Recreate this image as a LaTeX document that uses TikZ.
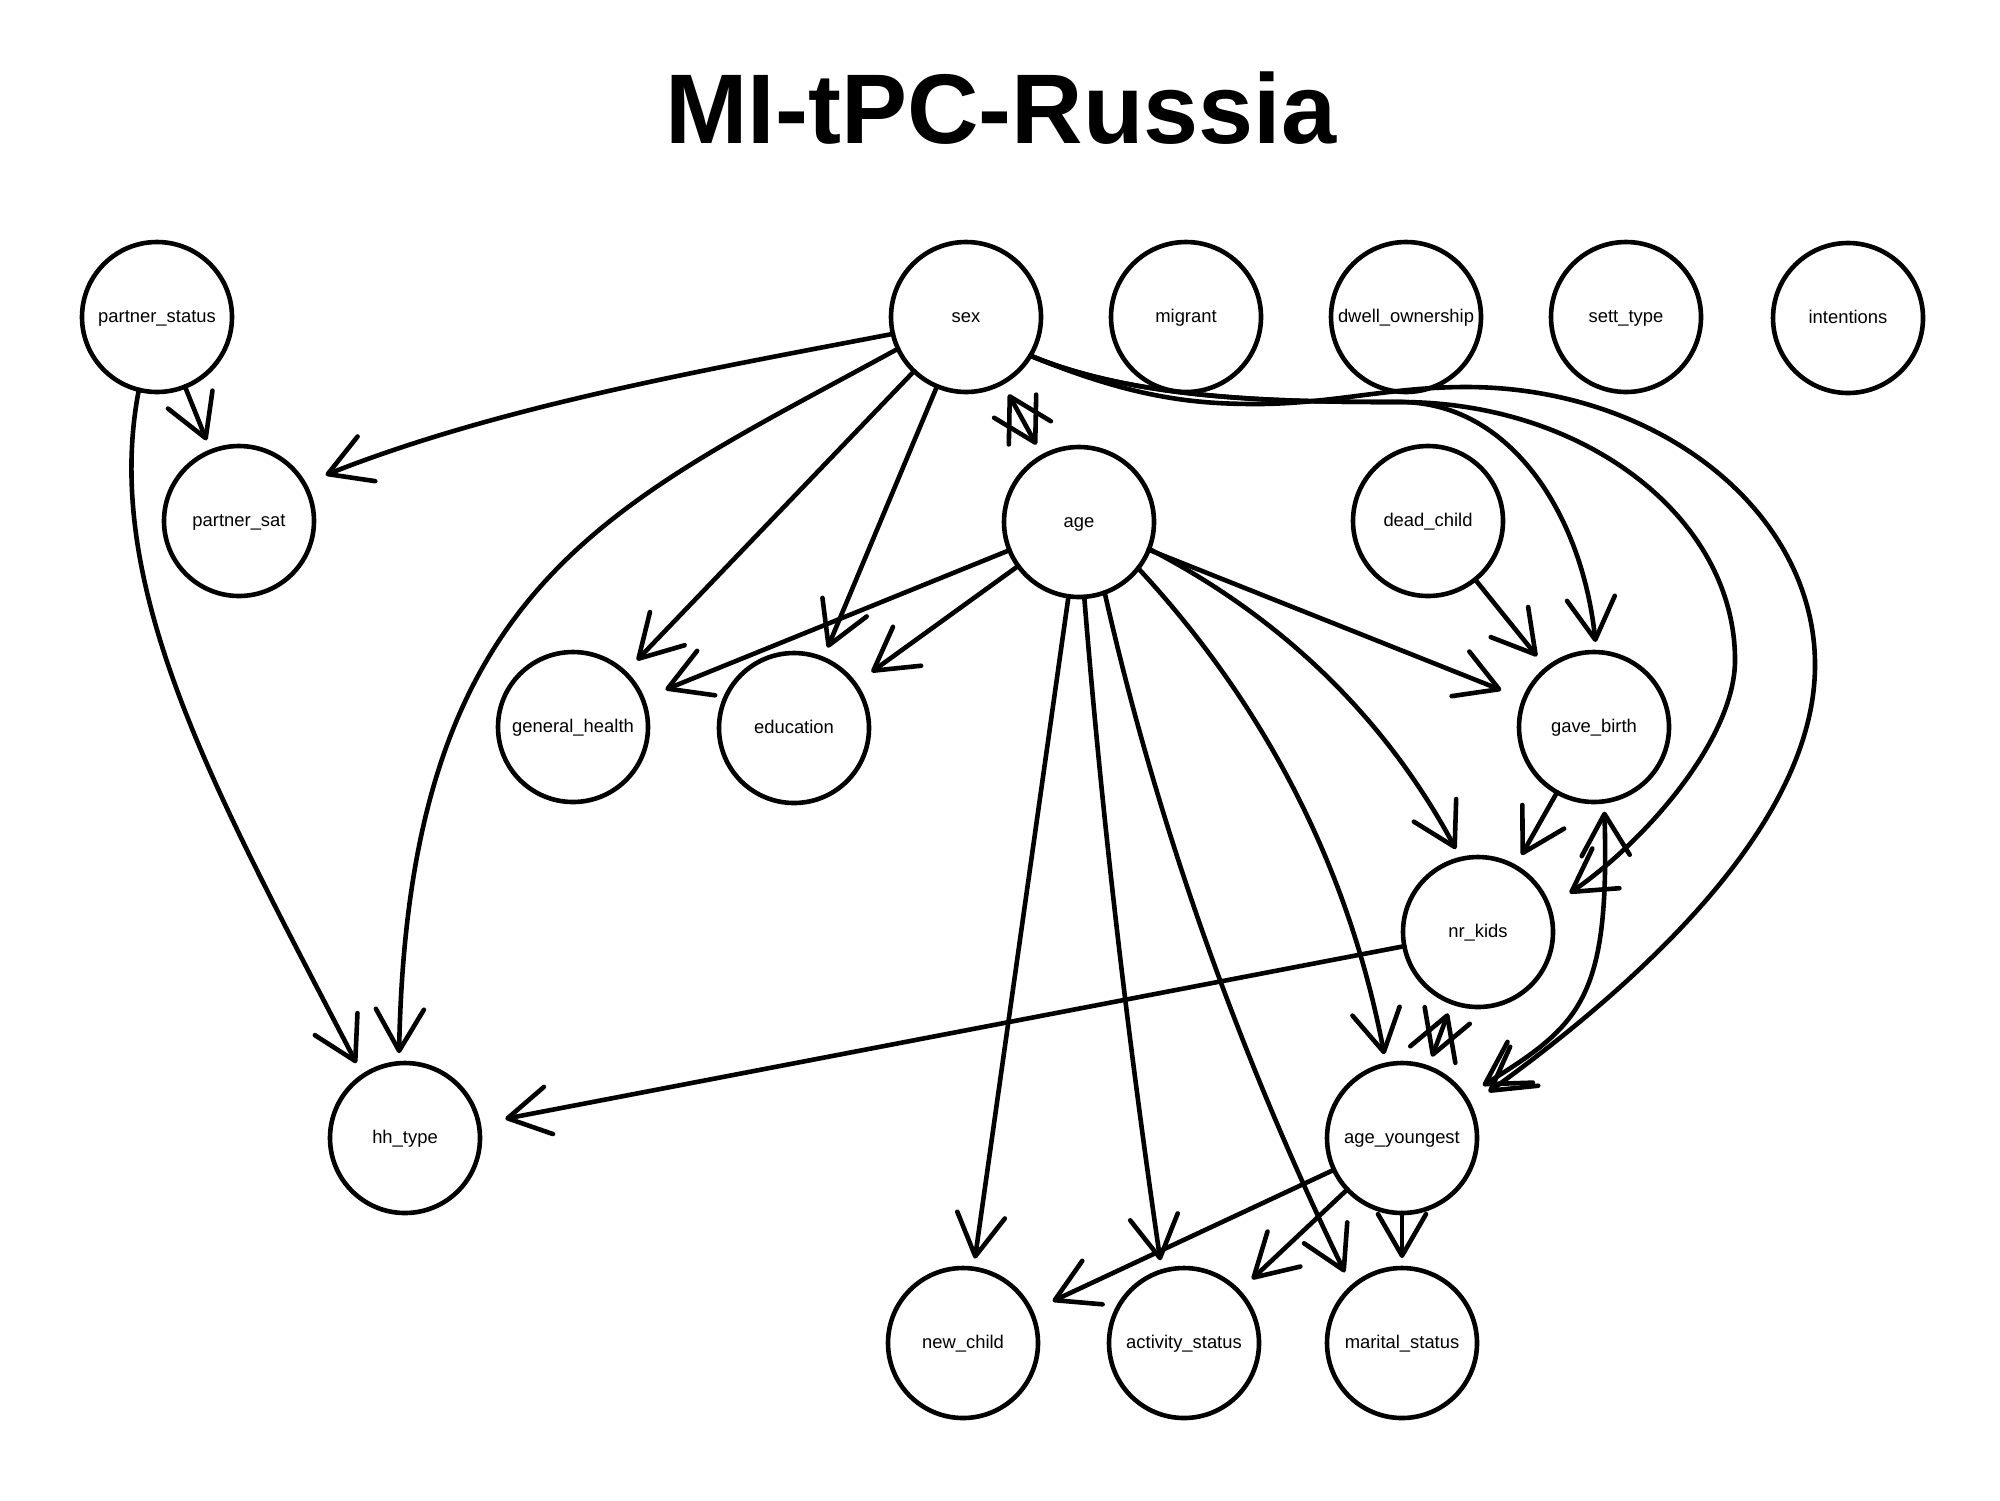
\documentclass[tikz,border=0pt]{standalone}
\usepackage{fontspec}
\setmainfont{Liberation Sans}
\usetikzlibrary{arrows.meta,shapes.geometric,calc}
\begin{document}
\begin{tikzpicture}[x=0.5pt,y=-0.5pt,
  vtx/.style={circle,draw,line width=2.3pt,minimum size=75pt,inner sep=0pt,outer sep=0pt,
    font=\fontsize{9.2pt}{11pt}\selectfont,text height=1ex,text depth=0pt},
  ghost/.style={ellipse,minimum width=103pt,minimum height=85pt,inner sep=0pt,outer sep=0pt},
  conn/.style={line width=2.3pt,line cap=round,-{Straight Barb[length=20.8pt,width=24pt,round]}},
  biconn/.style={line width=2.3pt,line cap=round,{Straight Barb[length=20.8pt,width=24pt,round]}-{Straight Barb[length=20.8pt,width=24pt,round]}}]
\fill[white] (0,0) rectangle (2000,1500);
\useasboundingbox (0,0) rectangle (2000,1500);

\node[font=\fontsize{49.5pt}{50pt}\selectfont\bfseries,anchor=base] (title) at (1001,143) {MI-tPC-Russia};

\node[vtx] (ps) at (157,317) {partner\_status};
\node[vtx] (sex) at (966,317) {sex};
\node[vtx] (mig) at (1186,317) {migrant};
\node[vtx] (dwl) at (1406,317) {dwell\_ownership};
\node[vtx] (sett) at (1626,317) {sett\_type};
\node[vtx] (int) at (1848,318) {intentions};
\node[vtx] (psat) at (239,521) {partner\_sat};
\node[vtx] (age) at (1079,522) {age};
\node[vtx] (dead) at (1428,521) {dead\_child};
\node[vtx] (gh) at (573,727) {general\_health};
\node[vtx] (edu) at (794,728) {education};
\node[vtx] (gb) at (1594,727) {gave\_birth};
\node[vtx] (nk) at (1478,932) {nr\_kids};
\node[vtx] (hh) at (405,1138) {hh\_type};
\node[vtx] (ay) at (1402,1138) {age\_youngest};
\node[vtx] (nc) at (963,1343) {new\_child};
\node[vtx] (as) at (1184,1343) {activity\_status};
\node[vtx] (ms) at (1402,1343) {marital\_status};

\node[ghost] (sexE) at (sex) {};
\node[ghost] (psatE) at (psat) {};
\node[ghost] (ageE) at (age) {};
\node[ghost] (ghE) at (gh) {};
\node[ghost] (eduE) at (edu) {};
\node[ghost] (gbE) at (gb) {};
\node[ghost] (nkE) at (nk) {};
\node[ghost] (hhE) at (hh) {};
\node[ghost] (ayE) at (ay) {};
\node[ghost] (ncE) at (nc) {};
\node[ghost] (asE) at (as) {};
\node[ghost] (msE) at (ms) {};

% partner_status
\draw[conn] (ps) -- (psatE);
\draw[conn] (ps.256) .. controls (100,590) and (220,800) .. (hhE.123);

% sex
\draw[conn] (sex.193) .. controls (705,370) and (500,406) .. (psatE.28);
\draw[conn] (sex.205) .. controls (609,507) and (408,582) .. (hhE.94);
\draw[conn] (sex) -- (ghE);
\draw[conn] (sex) -- (eduE);
\draw[biconn] (sexE) -- (ageE);
\draw[conn] (sex.329) .. controls (1137,400) and (1280,402) .. (1400,402)
  .. controls (1510,402) and (1582,514) .. (gbE.89);
\draw[conn] (sex.329) .. controls (1137,400) and (1280,402) .. (1400,402)
  .. controls (1585,402) and (1735,518) .. (1735,660)
  .. controls (1735,740) and (1643,843) .. (nkE.23);
\draw[conn] (sex.329) .. controls (1137,400) and (1200,404) .. (1257,404)
  .. controls (1330,404) and (1390,387) .. (1466,387)
  .. controls (1659,387) and (1815,512) .. (1815,665)
  .. controls (1815,820) and (1649,976) .. (ayE.28);

% age
\draw[conn] (age) -- (ghE);
\draw[conn] (age) -- (eduE);
\draw[conn] (age) -- (gbE);
\draw[conn] (age.339) .. controls (1283,618) and (1386,719) .. (nkE.105);
\draw[conn] (age.322) .. controls (1266,706) and (1349,869) .. (ayE.102);
\draw[conn] (age) -- (ncE);
\draw[conn] (age.274) .. controls (1102,818) and (1128,1039) .. (asE.106);
\draw[conn] (age.290) .. controls (1156,821) and (1238,1052) .. (msE.129);

% others
\draw[conn] (dead) -- (gbE);
\draw[conn] (gb) -- (nkE);
\draw[biconn] (gbE.277) .. controls (1610,1000) and (1580,1025) .. (ayE.33);
\draw[conn] (nk) -- (hhE);
\draw[biconn] (nkE) -- (ayE);
\draw[conn] (ay) -- (ncE);
\draw[conn] (ay) -- (asE);
\draw[conn] (ay) -- (msE);
\end{tikzpicture}
\end{document}
